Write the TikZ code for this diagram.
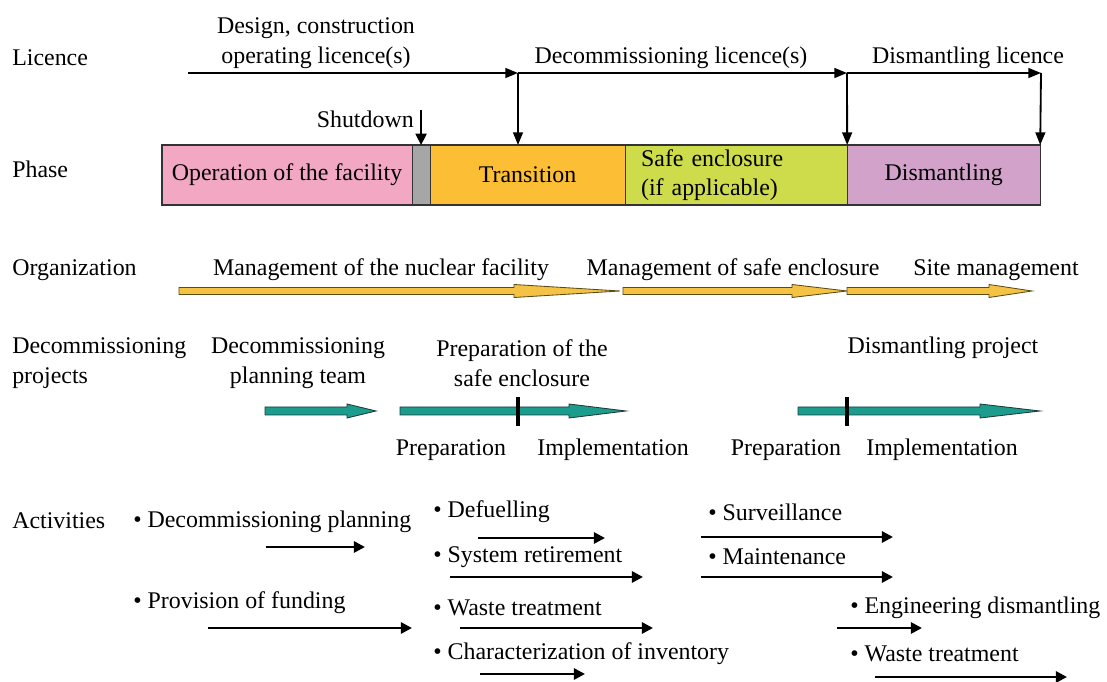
\documentclass[tikz,border=0pt]{standalone}
\usepackage{fontspec}
\setmainfont{Liberation Serif}
\usepackage{tikz}
\usetikzlibrary{arrows.meta,positioning}
\definecolor{opPink}{HTML}{F2A7C3}
\definecolor{shutGrey}{HTML}{A6A6A6}
\definecolor{transOrange}{HTML}{FBBE34}
\definecolor{safeGreen}{HTML}{CEDB4B}
\definecolor{dismLilac}{HTML}{D2A2CB}
\definecolor{orgGold}{HTML}{F4C244}
\definecolor{orgEdge}{HTML}{5C4B14}
\definecolor{projTeal}{HTML}{1B9C8D}
\definecolor{projEdge}{HTML}{1F3B38}
\newcommand{\lblfont}{\fontsize{17}{21}\selectfont}

\begin{document}
\begin{tikzpicture}[x=0.025cm,y=-0.025cm,
  lbl/.style={font=\lblfont,inner sep=0pt,align=center},
  side/.style={lbl,anchor=west,align=left},
  act/.style={lbl,anchor=west},
  phase/.style={rectangle,draw=black!80,thick,minimum height=1.5cm,
                inner sep=0pt,outer sep=0pt,font=\lblfont,align=center},
  lic/.style={-{Triangle[length=9pt,width=7pt]},line width=1.3pt},
  actarr/.style={-{Triangle[length=8pt,width=8pt]},line width=1.9pt},
  orgarr/.style={fill=orgGold,draw=orgEdge,line width=0.6pt},
  tealarr/.style={fill=projTeal,draw=projEdge,line width=0.6pt}]
\useasboundingbox (0,0) rectangle (1107,682);
%% ── Row titles ──────────────────────────────────────────────────────────
\node[side] (tLic) at (12,58) {Licence};
\node[side] (tPhase) at (12,169) {Phase};
\node[side] (tOrg) at (12,270) {Organization};
\node[side] (tProj) at (12,363) {Decommissioning\\projects};
\node[side] (tAct) at (12,521) {Activities};
%% ── Phase bar ───────────────────────────────────────────────────────────
\node[phase,anchor=west,fill=opPink,minimum width=6.25cm] (op) at (162,175)
  {Operation of the facility};
\node[phase,fill=shutGrey,minimum width=0.45cm,right=0pt of op] (shut) {};
\node[phase,fill=transOrange,minimum width=4.875cm,right=0pt of shut] (trans)
  {Transition};
\node[phase,fill=safeGreen,minimum width=5.55cm,right=0pt of trans,
      text width=4.75cm,align=left] (safe)
  {Safe enclosure\\(if applicable)};
\node[phase,fill=dismLilac,minimum width=4.825cm,right=0pt of safe] (dism)
  {Dismantling};
%% ── Licences ────────────────────────────────────────────────────────────
\node[lbl] (licOp) at (316,43) {Design, construction\\operating licence(s)};
\node[lbl] (licDec) at (671,58) {Decommissioning licence(s)};
\node[lbl] (licDis) at (968,58) {Dismantling licence};
\coordinate (lic0) at (188,73);
\coordinate (lic1) at (518,73);
\coordinate (lic2) at (847,73);
\coordinate (lic3) at (1041,73);
\draw[lic] (lic0) -- (lic1);
\draw[lic] (lic1) -- (lic1 |- trans.north);
\draw[lic] (lic1) -- (lic2);
\draw[lic] (lic2) -- (dism.north west);
\draw[lic] (lic2) -- (lic3);
\draw[lic] (lic3) -- (dism.north east);
\node[lbl,anchor=east] (sdLbl) at (414,119) {Shutdown};
\draw[actarr,line width=1pt] (shut.north |- sdLbl.north) -- (shut.north);
%% ── Organization ────────────────────────────────────────────────────────
\node[lbl] (orgFac) at (381,270) {Management of the nuclear facility};
\node[lbl] (orgSafe) at (733,270) {Management of safe enclosure};
\node[lbl] (orgSite) at (996,270) {Site management};
\foreach \xa/\xh/\xe in {179/514/620,623/792/847,847/989/1032}
  \draw[orgarr] (\xa,287.5) -- (\xh,287.5) -- (\xh,284.5) -- (\xe,291)
    -- (\xh,297.5) -- (\xh,294.5) -- (\xa,294.5) -- cycle;
%% ── Decommissioning projects ────────────────────────────────────────────
\node[lbl] (prjTeam) at (298,363) {Decommissioning\\planning team};
\node[lbl] (prjSafe) at (522,363) {Preparation of the\\safe enclosure};
\node[lbl] (prjDis) at (943,348) {Dismantling project};
\foreach \xa/\xh/\xe in {265/347/376,400/569/626,798/980/1040}
  \draw[tealarr] (\xa,407) -- (\xh,407) -- (\xh,404) -- (\xe,411)
    -- (\xh,418) -- (\xh,415) -- (\xa,415) -- cycle;
\draw[line width=2.2pt] (518,397) -- (518,426);
\draw[line width=2.2pt] (847,397) -- (847,426);
\node[lbl] (prep1) at (451,450) {Preparation};
\node[lbl] (impl1) at (613,450) {Implementation};
\node[lbl] (prep2) at (786,450) {Preparation};
\node[lbl] (impl2) at (942,450) {Implementation};
%% ── Activities ──────────────────────────────────────────────────────────
\node[act] (aPlan) at (133,522) {\textbullet\ Decommissioning planning};
\node[act] (aFund) at (133,603) {\textbullet\ Provision of funding};
\node[act] (aDef) at (433,512) {\textbullet\ Defuelling};
\node[act] (aSys) at (433,557) {\textbullet\ System retirement};
\node[act] (aWst) at (433,608) {\textbullet\ Waste treatment};
\node[act] (aChr) at (433,654) {\textbullet\ Characterization of inventory};
\node[act] (aSrv) at (708,512) {\textbullet\ Surveillance};
\node[act] (aMnt) at (708,557) {\textbullet\ Maintenance};
\node[act] (aEng) at (850,608) {\textbullet\ Engineering dismantling};
\node[act] (aWs2) at (850,654) {\textbullet\ Waste treatment};
\foreach \xa/\xb/\y in {266/365/547,208/412/628,478/605/538,450/643/577,
    460/653/628,480/585/674,701/893/537,701/893/577,837/922/628,875/1067/677}
  \draw[actarr] (\xa,\y) -- (\xb,\y);
\end{tikzpicture}
\end{document}
